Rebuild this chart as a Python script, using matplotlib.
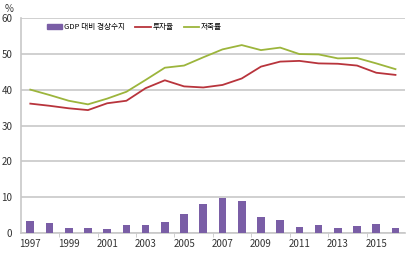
import matplotlib.pyplot as plt
from matplotlib.lines import Line2D
from matplotlib.patches import Patch

plt.rcParams['font.family'] = ['Noto Sans CJK KR', 'DejaVu Sans']

years = list(range(1997, 2017))
current_account = [3.5, 2.9, 1.6, 1.5, 1.1, 2.2, 2.4, 3.2, 5.5, 8.1,
                   9.7, 9.0, 4.6, 3.7, 1.7, 2.4, 1.4, 2.1, 2.5, 1.5]
investment = [36.1, 35.5, 34.8, 34.3, 36.2, 36.9, 40.4, 42.6, 40.9, 40.6,
              41.3, 43.1, 46.4, 47.8, 48.0, 47.3, 47.2, 46.7, 44.7, 44.1]
savings = [40.0, 38.5, 36.9, 35.9, 37.5, 39.4, 42.7, 46.1, 46.7, 49.0,
           51.2, 52.4, 51.0, 51.7, 49.9, 49.8, 48.7, 48.8, 47.3, 45.7]
labels = ['GDP 대비 경상수지', '투자율', '저축률']

c_bar = '#7a5ea6'
c_inv = '#b8343c'
c_sav = '#9cb53c'

fig = plt.figure(figsize=(4.1, 2.54), dpi=100)
ax = fig.add_axes([0.0505, 0.0815, 0.9375, 0.8485])

ax.bar(years, current_account, width=0.4, color=c_bar, zorder=3)
ax.plot(years, investment, color=c_inv, lw=1.3, zorder=4)
ax.plot(years, savings, color=c_sav, lw=1.3, zorder=4)

ax.set_xlim(1996.5, 2016.5)
ax.set_ylim(0, 60)
ax.set_yticks(range(0, 61, 10))
ax.set_xticks(range(1997, 2017, 2))
ax.set_xticks([y + 0.5 for y in range(1998, 2016, 2)], minor=True)
ax.grid(axis='y', color='#c8c8c8', lw=1.2, zorder=0)
for s in ['top', 'right']:
    ax.spines[s].set_visible(False)
ax.spines['left'].set_color('#c8c8c8')
ax.spines['bottom'].set_color('#c8c8c8')
ax.spines['left'].set_linewidth(1.2)
ax.spines['bottom'].set_linewidth(1.2)
ax.tick_params(axis='y', length=0, labelsize=7, colors='#333333', pad=6)
ax.tick_params(axis='x', which='major', length=0, labelsize=7, colors='#333333', pad=4)
ax.tick_params(axis='x', which='minor', length=3, color='#c8c8c8', direction='out')

fig.text(0.022, 0.965, '%', fontsize=7, color='#333333', ha='center', va='center')

handles = [Patch(color=c_bar),
           Line2D([], [], color=c_inv, lw=1.3),
           Line2D([], [], color=c_sav, lw=1.3)]
ax.legend(handles, labels, loc='center left', bbox_to_anchor=(0.068, 0.957), ncol=3,
          frameon=False, fontsize=5.5, handlelength=2.0, handleheight=0.5,
          columnspacing=1.4, handletextpad=0.2, borderpad=0, borderaxespad=0)

fig.savefig('out.png', dpi=100)
